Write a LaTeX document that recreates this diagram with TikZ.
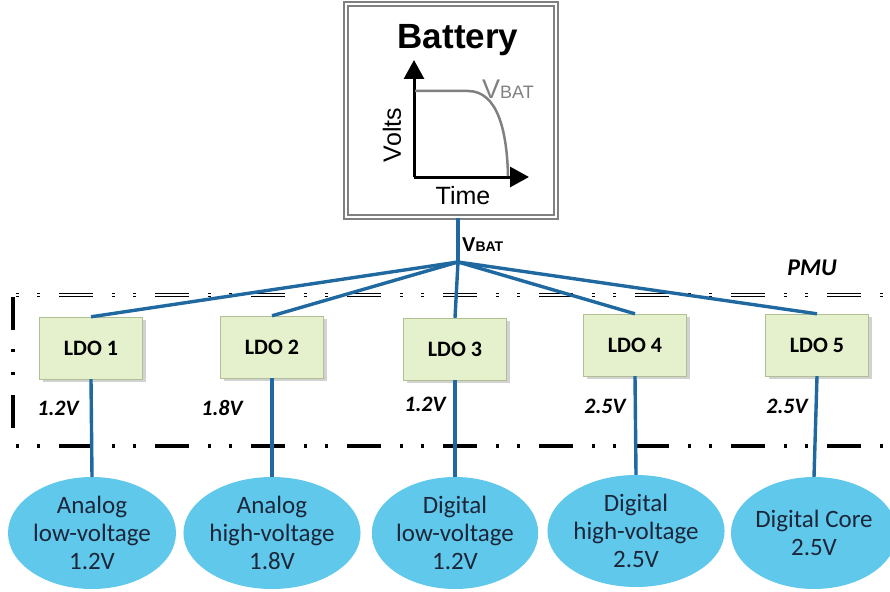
\documentclass[tikz,border=0pt]{standalone}
\usepackage{fontspec}
\setmainfont{Carlito}
\newfontfamily\arialfont{Liberation Sans}
\usetikzlibrary{shapes.geometric, arrows.meta, shadows}

\definecolor{wireblue}{RGB}{31,104,160}
\definecolor{ldofill}{RGB}{229,240,204}
\definecolor{ldoedge}{RGB}{176,192,146}
\definecolor{loadblue}{RGB}{96,200,234}
\definecolor{loadtext}{RGB}{28,38,58}

\begin{document}
\begin{tikzpicture}[
		x=1pt, y=-1pt,
		wire/.style={draw=wireblue, line width=3.4pt},
		ldo/.style={draw=ldoedge, fill=ldofill, minimum width=103pt, minimum height=62pt,
			font=\fontsize{22}{24}\selectfont\bfseries,
			drop shadow={shadow xshift=3pt, shadow yshift=-3pt, fill=black!35}},
		load/.style={ellipse, fill=loadblue, minimum width=164pt, minimum height=112pt,
			inner sep=0pt, align=center, text=loadtext, font=\fontsize{25}{28}\selectfont},
		volt/.style={font=\fontsize{22}{24}\selectfont\bfseries\itshape},
		pmu/.style={line width=3.2pt, dash pattern=on 3pt off 18pt on 3pt off 19pt on 34pt off 19pt, dash phase=-3pt}
		]
		\useasboundingbox (0,0) rectangle (890,591);

		% battery
		\node[draw=gray, double=white, double distance=2pt, line width=1.6pt,
			minimum width=210pt, minimum height=213pt] (bat) at (451,110.5) {};
		\node[font=\arialfont\fontsize{35}{35}\selectfont\bfseries] (battitle) at (458,40) {Battery};
		\coordinate (org) at (414,177);
		\draw[line width=3pt, -{Triangle[length=19pt, width=20pt]}] (org) -- (414,60);
		\draw[line width=3pt, -{Triangle[length=19pt, width=20pt]}] (org) -- (529,177);
		\draw[gray, line width=2.5pt] (415,91) -- (468,91) .. controls (498,91) and (507,132) .. (508,176);
		\node[gray, font=\arialfont, anchor=base west, inner sep=0pt] (vcurve) at (482,99)
			{{\fontsize{27}{27}\selectfont V}{\fontsize{18}{18}\selectfont BAT}};
		\node[rotate=90, font=\arialfont\fontsize{25}{25}\selectfont] (volts) at (392,135) {Volts};
		\node[font=\arialfont\fontsize{25}{25}\selectfont] (time) at (463,196) {Time};

		% supply rail
		\coordinate (hub) at (458,262);
		\draw[wire] (bat.south -| hub) -- (hub);
		\node[font=\arialfont\bfseries, anchor=base west, inner sep=0pt] (vbat) at (462,251)
			{{\fontsize{20}{20}\selectfont V}{\fontsize{14}{14}\selectfont BAT}};

		% PMU boundary
		\draw[pmu, double=white, double distance=1.2pt, line width=1.8pt] (13,295) -- (890,295);
		\draw[pmu] (13,446) -- (890,446);
		\draw[pmu, dash phase=0pt, dash pattern=on 33pt off 19pt on 3pt off 20pt on 3pt off 20pt] (13,297) -- (13,446);
		\node[font=\fontsize{24}{26}\selectfont\bfseries\itshape] (pmu) at (812,268) {PMU};

		% regulators
		\node[ldo] (ldo1) at (91,348) {LDO 1};
		\node[ldo] (ldo2) at (272,347) {LDO 2};
		\node[ldo] (ldo3) at (455,349) {LDO 3};
		\node[ldo] (ldo4) at (635,345) {LDO 4};
		\node[ldo] (ldo5) at (817,345) {LDO 5};

		% loads
		\node[load, minimum width=168pt] (ld1) at (92,533) {Analog\\low-voltage\\1.2V};
		\node[load] (ld2) at (272,533) {Analog\\high-voltage\\1.8V};
		\node[load, minimum width=156pt] (ld3) at (455,533) {Digital\\low-voltage\\1.2V};
		\node[load, minimum width=156pt] (ld4) at (636,531) {Digital\\high-voltage\\2.5V};
		\node[load, minimum width=152pt] (ld5) at (814,533) {Digital Core\\2.5V};

		% wires
		\draw[wire] (hub) -- (ldo1.north);
		\draw[wire] (hub) -- (ldo2.north);
		\draw[wire] (hub) -- (ldo3.north);
		\draw[wire] (hub) -- (ldo4.north);
		\draw[wire] (hub) -- (ldo5.north);
		\draw[wire] (ldo1.south) -- (ld1.north);
		\draw[wire] (ldo2.south) -- (ld2.north);
		\draw[wire] (ldo3.south) -- (ld3.north);
		\draw[wire] (ldo4.south) -- (ld4.north);
		\draw[wire] (ldo5.south) -- (ld5.north);

		% output voltages
		\node[volt] (v1) at (58,408) {1.2V};
		\node[volt] (v2) at (222,408) {1.8V};
		\node[volt] (v3) at (425,404) {1.2V};
		\node[volt] (v4) at (605,406) {2.5V};
		\node[volt] (v5) at (787,406) {2.5V};
	\end{tikzpicture}
\end{document}
